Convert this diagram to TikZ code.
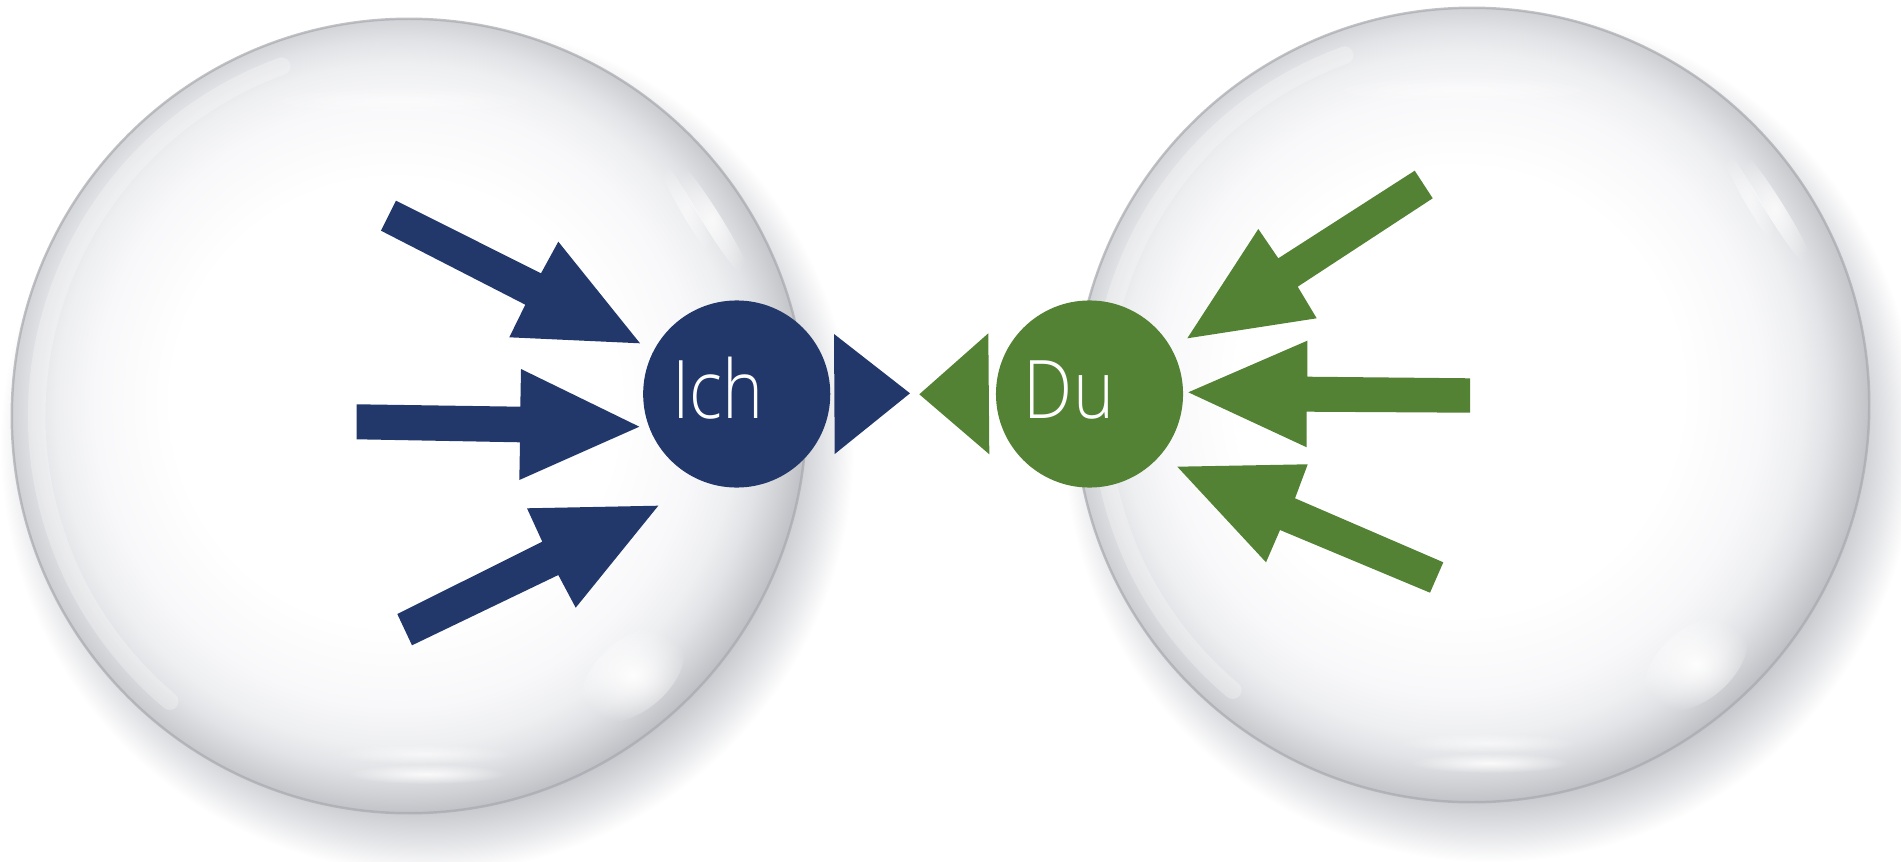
\documentclass[tikz,border=0pt]{standalone}
\usepackage{fontspec}
\newfontfamily\labelfont{Open Sans}[UprightFont={* Light}, FakeStretch=0.86]
\usetikzlibrary{fadings}

\definecolor{ichblue}{RGB}{35,56,106}
\definecolor{dugreen}{RGB}{84,130,53}
% glass sphere tones, centre to rim
\definecolor{bubA}{RGB}{248,248,250}
\definecolor{bubB}{RGB}{238,239,241}
\definecolor{bubC}{RGB}{226,227,230}
\definecolor{bubD}{RGB}{208,209,213}
\definecolor{bubE}{RGB}{188,189,194}
\definecolor{bubF}{RGB}{176,177,182}
\definecolor{rimline}{RGB}{168,169,174}
% soft cast shadow
\definecolor{shA}{RGB}{196,197,202}
\definecolor{shB}{RGB}{226,227,230}

\pgfdeclareradialshading{bubble}{\pgfpoint{-1.2bp}{1.2bp}}{%
  color(0bp)=(white); color(14bp)=(white); color(19bp)=(bubA);
  color(21.5bp)=(bubB); color(23bp)=(bubC); color(24.5bp)=(bubD);
  color(26bp)=(bubE); color(27bp)=(bubF); color(50bp)=(bubF)}
\pgfdeclareradialshading{bubbleshadow}{\pgfpoint{0bp}{0bp}}{%
  color(0bp)=(shA); color(19.5bp)=(shA); color(21.5bp)=(shB);
  color(23.2bp)=(white); color(50bp)=(white)}
\tikzfading[name=softblob, inner color=transparent!0, outer color=transparent!100]

\begin{document}
\begin{tikzpicture}[x=0.01cm, y=-0.01cm,
  person/.style={circle, inner sep=0pt, minimum size=1.87cm},
  nametext/.style={text=white, inner sep=0pt, anchor=base,
    font=\labelfont\fontsize{23pt}{23pt}\selectfont},
  gloss/.style={white, path fading=softblob},
  rim/.style={draw=rimline, line width=0.7pt, opacity=0.7}]
\useasboundingbox (0,0) rectangle (1901,861);
\clip (0,0) rectangle (1901,861);

% cast shadows of the two spheres
\shade[shading=bubbleshadow] (427,446) circle (4.6cm);
\shade[shading=bubbleshadow] (1490,435) circle (4.6cm);

% glass spheres
\shade[shading=bubble] (409,416) circle (3.97cm);
\shade[shading=bubble] (1472,405) circle (3.97cm);
\path[rim] (409,416) circle (3.97cm);
\path[rim] (1472,405) circle (3.97cm);

% faint bright ring along the lit side
\foreach \cx/\cy in {409/416, 1472/405} {
  \draw[white, opacity=0.28, line width=5pt, line cap=round]
    (\cx,\cy) ++(110:3.72cm) arc[start angle=110, end angle=230, radius=3.72cm];
}

% soft reflections on the glass
\foreach \cx/\cy in {409/416, 1472/405} {
  \fill[gloss, opacity=0.95, rotate around={40:(\cx+224,\cy+259)}]
    (\cx+224,\cy+259) ellipse (0.6cm and 0.36cm);
  \fill[gloss, opacity=0.85] (\cx+18,\cy+358) ellipse (0.8cm and 0.1cm);
  \fill[gloss, opacity=0.6] (\cx+15,\cy+338) ellipse (0.9cm and 0.1cm);
  \fill[gloss, opacity=0.5] (\cx-10,\cy-315) ellipse (1.4cm and 0.14cm);
  \fill[gloss, opacity=0.8, rotate around={-58:(\cx+303,\cy-196)}]
    (\cx+303,\cy-196) ellipse (0.75cm and 0.09cm);
  \fill[gloss, opacity=0.6, rotate around={-60:(\cx+278,\cy-208)}]
    (\cx+278,\cy-208) ellipse (0.6cm and 0.07cm);
}

% the two persons
\node[person, fill=ichblue] (ich) at (736.7,394) {};
\node[person, fill=dugreen] (du) at (1089.5,394) {};
\node[nametext] (ichname) at (718,418.3) {Ich};
\node[nametext] (duname) at (1069,418.3) {Du};

% triangles pointing at each other
\fill[ichblue] (834,334) -- (910,393.3) -- (834.7,454) -- cycle;
\fill[dugreen] (988.3,333.3) -- (919.3,394.3) -- (989.3,454.3) -- cycle;

% block arrows into "Ich"
\fill[ichblue] (396,200.7) -- (541,273.3) -- (558.3,241.7) -- (640,343.3)
  -- (509.3,337.3) -- (525.3,304.7) -- (381,230.7) -- cycle;
\fill[ichblue] (356.7,404.3) -- (520.3,406.7) -- (521,369) -- (639.3,426.7)
  -- (519.3,480) -- (520,442.3) -- (356.7,439.3) -- cycle;
\fill[ichblue] (397.3,614) -- (542.3,541.7) -- (527,508.3) -- (658.3,505.7)
  -- (575.7,607.7) -- (558.3,575) -- (412,645.3) -- cycle;

% block arrows into "Du"
\fill[dugreen] (1414.7,170.7) -- (1278.3,258.3) -- (1258.3,229) -- (1187.3,338.3)
  -- (1316.7,318.3) -- (1297.7,286.7) -- (1432.7,198.3) -- cycle;
\fill[dugreen] (1470,378.3) -- (1307.3,376.7) -- (1307.3,340.7) -- (1188.3,392.3)
  -- (1306.7,447.3) -- (1306.7,411.7) -- (1470,412.7) -- cycle;
\fill[dugreen] (1443.3,562.3) -- (1295,498.3) -- (1307.7,464.3) -- (1177.3,466.7)
  -- (1266,562.3) -- (1280,530) -- (1430,592.7) -- cycle;
\end{tikzpicture}
\end{document}
